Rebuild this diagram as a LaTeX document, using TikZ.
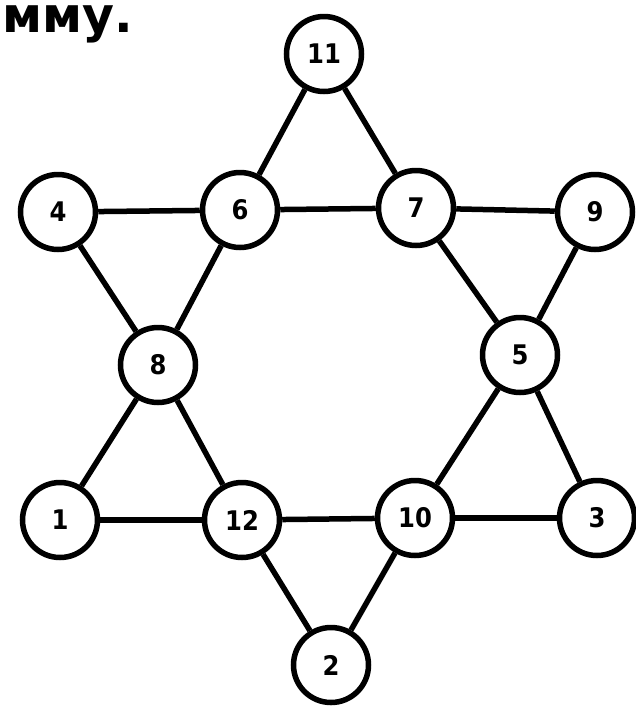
\documentclass[tikz,border=0pt]{standalone}
\usepackage{fontspec}
\setmainfont{DejaVu Sans}
\newfontfamily\numfont{DejaVu Sans Condensed}
\tikzset{
  vert/.style={circle,draw,line width=5.5pt,minimum size=75pt,inner sep=0pt,fill=white,font=\fontsize{27}{32}\selectfont\numfont\bfseries},
  edge/.style={line width=5.5pt}
}
\begin{document}
\begin{tikzpicture}[x=1pt,y=-1pt]
\path[use as bounding box] (0,0) rectangle (636.0,713.0);
\node[anchor=base west,inner sep=0pt,font=\fontsize{49.0}{58.8}\selectfont \bfseries ] (cap) at (2,32) {мму.};
\node[vert] (n11) at (324,54) {11};
\node[vert] (n4) at (58,212) {4};
\node[vert] (n6) at (240,210) {6};
\node[vert] (n7) at (416,208) {7};
\node[vert] (n9) at (595,212) {9};
\node[vert] (n8) at (158,365) {8};
\node[vert] (n5) at (520,355) {5};
\node[vert] (n1) at (60,520) {1};
\node[vert] (n12) at (242,520) {12};
\node[vert] (n10) at (415,518) {10};
\node[vert] (n3) at (597,518) {3};
\node[vert] (n2) at (331,665) {2};
\draw[edge] (n11) -- (n6);
\draw[edge] (n11) -- (n7);
\draw[edge] (n4) -- (n6);
\draw[edge] (n6) -- (n7);
\draw[edge] (n7) -- (n9);
\draw[edge] (n4) -- (n8);
\draw[edge] (n6) -- (n8);
\draw[edge] (n7) -- (n5);
\draw[edge] (n9) -- (n5);
\draw[edge] (n8) -- (n1);
\draw[edge] (n8) -- (n12);
\draw[edge] (n1) -- (n12);
\draw[edge] (n12) -- (n10);
\draw[edge] (n10) -- (n3);
\draw[edge] (n5) -- (n10);
\draw[edge] (n5) -- (n3);
\draw[edge] (n12) -- (n2);
\draw[edge] (n10) -- (n2);
\end{tikzpicture}
\end{document}
